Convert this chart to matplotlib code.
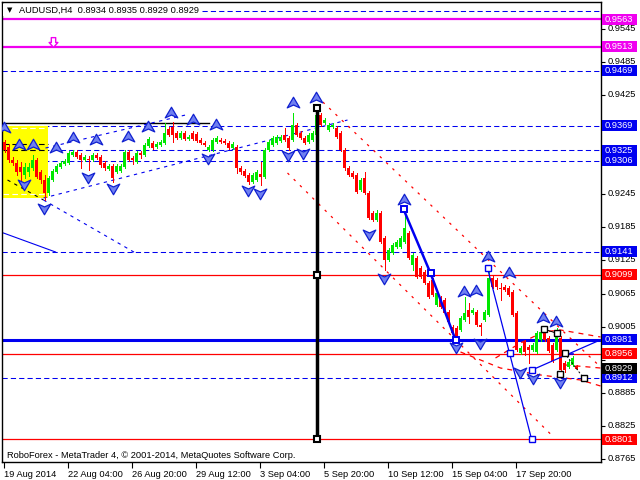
import matplotlib
matplotlib.use("Agg")
import matplotlib.pyplot as plt
from matplotlib.path import Path
from matplotlib.patches import Rectangle
from matplotlib.transforms import blended_transform_factory, ScaledTranslation
import numpy as np

plt.rcParams['font.family'] = ['Liberation Sans', 'DejaVu Sans']

# ---------------- data (AUDUSD H4 candles) ----------------
opens = [0.9340,0.9331,0.9307,0.9302,0.9295,0.9280,0.9285,0.9293,0.9307,0.9285,
         0.9271,0.9247,0.9271,0.9285,0.9295,0.9300,0.9302,0.9316,0.9322,0.9316,
         0.9307,0.9309,0.9307,0.9316,0.9313,0.9302,0.9291,0.9296,0.9285,0.9287,
         0.9295,0.9322,0.9311,0.9304,0.9320,0.9316,0.9333,0.9338,0.9331,0.9334,
         0.9338,0.9363,0.9367,0.9356,0.9347,0.9356,0.9345,0.9356,0.9354,0.9344,
         0.9338,0.9325,0.9325,0.9340,0.9344,0.9342,0.9338,0.9329,0.9331,0.9293,
         0.9287,0.9280,0.9267,0.9271,0.9282,0.9276,0.9325,0.9334,0.9338,0.9342,
         0.9353,0.9347,0.9344,0.9371,0.9356,0.9347,0.9340,0.9344,0.9353,0.9389,
         0.9374,0.9362,0.9367,0.9365,0.9356,0.9325,0.9293,0.9284,0.9280,0.9253,
         0.9275,0.9247,0.9211,0.9198,0.9211,0.9166,0.9126,0.9139,0.9149,0.9149,
         0.9159,0.9175,0.9117,0.9130,0.9111,0.9104,0.9084,0.9090,0.9044,0.9057,
         0.9053,0.9032,0.9004,0.9003,0.8999,0.9017,0.9035,0.9030,0.9032,0.9008,
         0.9017,0.9026,0.9093,0.9090,0.9075,0.9077,0.9075,0.9068,0.9030,0.8957,
         0.8977,0.8968,0.8963,0.8959,0.8981,0.8995,0.8984,0.8972,0.8963,0.8984,
         0.8939,0.8932,0.8935,0.8934]
highs = [0.9344,0.9336,0.9313,0.9307,0.9304,0.9302,0.9302,0.9316,0.9311,0.9289,
         0.9280,0.9278,0.9291,0.9300,0.9305,0.9309,0.9324,0.9325,0.9325,0.9320,
         0.9316,0.9315,0.9320,0.9320,0.9316,0.9305,0.9300,0.9300,0.9300,0.9300,
         0.9325,0.9325,0.9315,0.9324,0.9324,0.9338,0.9349,0.9342,0.9340,0.9344,
         0.9374,0.9367,0.9376,0.9360,0.9360,0.9360,0.9353,0.9360,0.9358,0.9347,
         0.9342,0.9334,0.9347,0.9351,0.9347,0.9345,0.9342,0.9340,0.9334,0.9296,
         0.9291,0.9284,0.9284,0.9289,0.9304,0.9329,0.9344,0.9351,0.9353,0.9353,
         0.9365,0.9351,0.9393,0.9374,0.9360,0.9351,0.9356,0.9360,0.9405,0.9393,
         0.9384,0.9374,0.9374,0.9369,0.9360,0.9329,0.9296,0.9287,0.9284,0.9275,
         0.9285,0.9251,0.9215,0.9217,0.9215,0.9169,0.9148,0.9157,0.9162,0.9169,
         0.9217,0.9178,0.9139,0.9133,0.9115,0.9108,0.9088,0.9093,0.9070,0.9061,
         0.9057,0.9035,0.9008,0.9006,0.9024,0.9059,0.9048,0.9039,0.9035,0.9012,
         0.9035,0.9113,0.9097,0.9093,0.9084,0.9081,0.9079,0.9071,0.9033,0.8970,
         0.8981,0.8972,0.8975,0.8997,0.8999,0.8999,0.8988,0.8975,0.9003,0.8988,
         0.8943,0.8944,0.8952,0.8935]
lows = [0.9322,0.9304,0.9298,0.9280,0.9271,0.9275,0.9278,0.9289,0.9275,0.9266,
        0.9235,0.9244,0.9269,0.9284,0.9293,0.9298,0.9300,0.9315,0.9311,0.9293,
        0.9305,0.9289,0.9305,0.9309,0.9295,0.9289,0.9289,0.9267,0.9284,0.9285,
        0.9293,0.9305,0.9300,0.9302,0.9311,0.9315,0.9331,0.9327,0.9329,0.9333,
        0.9336,0.9351,0.9340,0.9345,0.9345,0.9344,0.9344,0.9344,0.9340,0.9336,
        0.9333,0.9324,0.9324,0.9338,0.9338,0.9336,0.9327,0.9327,0.9284,0.9282,
        0.9276,0.9264,0.9266,0.9269,0.9262,0.9275,0.9324,0.9333,0.9336,0.9340,
        0.9342,0.9325,0.9342,0.9351,0.9345,0.9336,0.9338,0.9342,0.9351,0.9369,
        0.9373,0.9360,0.9365,0.9347,0.9324,0.9289,0.9278,0.9275,0.9247,0.9251,
        0.9246,0.9200,0.9197,0.9197,0.9157,0.9108,0.9124,0.9137,0.9148,0.9148,
        0.9157,0.9128,0.9108,0.9093,0.9093,0.9082,0.9057,0.9061,0.9042,0.9039,
        0.9028,0.9012,0.8992,0.8979,0.8997,0.9015,0.9012,0.9028,0.9006,0.8990,
        0.9015,0.9024,0.9075,0.9073,0.9053,0.9070,0.9061,0.9024,0.8961,0.8955,
        0.8954,0.8939,0.8961,0.8957,0.8979,0.8979,0.8959,0.8941,0.8961,0.8925,
        0.8923,0.8930,0.8934,0.8929]
closes = [0.9325,0.9307,0.9302,0.9285,0.9285,0.9295,0.9295,0.9307,0.9276,0.9271,
          0.9247,0.9275,0.9287,0.9296,0.9302,0.9305,0.9320,0.9322,0.9313,0.9307,
          0.9313,0.9307,0.9316,0.9311,0.9298,0.9293,0.9296,0.9275,0.9296,0.9296,
          0.9322,0.9307,0.9307,0.9320,0.9316,0.9334,0.9345,0.9329,0.9336,0.9340,
          0.9356,0.9353,0.9353,0.9347,0.9356,0.9345,0.9349,0.9345,0.9342,0.9338,
          0.9334,0.9331,0.9344,0.9347,0.9340,0.9338,0.9329,0.9336,0.9293,0.9285,
          0.9278,0.9267,0.9280,0.9285,0.9276,0.9325,0.9340,0.9347,0.9349,0.9349,
          0.9344,0.9329,0.9371,0.9353,0.9347,0.9338,0.9353,0.9356,0.9389,0.9371,
          0.9380,0.9371,0.9371,0.9349,0.9325,0.9293,0.9280,0.9276,0.9249,0.9271,
          0.9247,0.9202,0.9198,0.9211,0.9159,0.9126,0.9144,0.9153,0.9159,0.9166,
          0.9184,0.9130,0.9135,0.9095,0.9095,0.9084,0.9059,0.9062,0.9066,0.9041,
          0.9030,0.9013,0.8993,0.8981,0.9021,0.9030,0.9022,0.9035,0.9008,0.9004,
          0.9032,0.9093,0.9077,0.9077,0.9073,0.9071,0.9062,0.9026,0.8963,0.8966,
          0.8959,0.8963,0.8972,0.8993,0.8995,0.8981,0.8961,0.8943,0.8999,0.8926,
          0.8926,0.8941,0.8948,0.8929]

date_labels = ["19 Aug 2014", "22 Aug 04:00", "26 Aug 20:00", "29 Aug 12:00",
               "3 Sep 04:00", "5 Sep 20:00", "10 Sep 12:00", "15 Sep 04:00",
               "17 Sep 20:00"]
date_bars = [0, 16, 32, 48, 64, 80, 96, 112, 128]
y_ticks = [0.9545, 0.9485, 0.9425, 0.9365, 0.9305, 0.9245, 0.9185, 0.9125,
           0.9065, 0.9005, 0.8945, 0.8885, 0.8825, 0.8765]
hidden_ticks = [0.9365, 0.9305, 0.8945]   # covered by price labels in the reference

# horizontal levels: (price, colour, style, width, label colour)
levels = [
    (0.9578, 'blue', 'dash', 0.75, None),
    (0.9563, 'magenta', 'solid', 1.6, 'magenta'),
    (0.9513, 'magenta', 'solid', 1.6, 'magenta'),
    (0.9469, 'blue', 'dash', 0.75, 'blue'),
    (0.9369, 'blue', 'dash', 0.75, 'blue'),
    (0.9325, 'blue', 'dash', 0.75, 'blue'),
    (0.9306, 'blue', 'dash', 0.75, 'blue'),
    (0.9141, 'blue', 'dash', 0.75, 'blue'),
    (0.9099, 'red', 'solid', 0.9, 'red'),
    (0.8981, 'blue', 'solid', 2.2, 'blue'),
    (0.8956, 'red', 'solid', 0.9, 'red'),
    (0.8912, 'blue', 'dash', 0.75, 'blue'),
    (0.8801, 'red', 'solid', 0.9, 'red'),
]
current_price = 0.8929

# fractal arrows (bar index, price)
up_x = [-0.25, 3.5, 7, 12.75, 17, 22.75, 30.75, 35.75, 41.5, 47, 52.75, 72, 77.75,
        99.75, 114.75, 117.75, 120.75, 126, 134.5, 137.75]
up_y = [0.9365, 0.93345, 0.93345, 0.9329, 0.93472, 0.93435, 0.9349, 0.93671,
        0.93925, 0.93798, 0.93707, 0.94107, 0.94197, 0.92347, 0.90678, 0.90696,
        0.91313, 0.91023, 0.90207, 0.90134]
dn_x = [4.75, 9.75, 20.75, 27, 50.75, 60.75, 63.75, 70.75, 74.5, 91, 94.75,
        112.75, 118.75, 128.75, 132, 138.75]
dn_y = [0.92637, 0.92202, 0.92764, 0.92565, 0.93109, 0.92528, 0.92474, 0.93163,
        0.932, 0.9173, 0.90932, 0.8968, 0.89753, 0.89227, 0.89118, 0.89046]

# drawn objects
vline_x = 78
vline_top, vline_mid, vline_bot = 0.9402, 0.9099, 0.8801
zig_thick_x = [99.75, 106.5, 112.75]
zig_thick_y = [0.9218, 0.9102, 0.8981]
zig_thin_x = [120.75, 126.25, 131.75]
zig_thin_y = [0.9111, 0.8957, 0.8801]
rise_x = [131.75, 149]
rise_y = [0.8926, 0.8981]
black_x = [134.75, 138, 138.75, 140, 144.75]
black_y = [0.9001, 0.8993, 0.8919, 0.8957, 0.8912]
red_up_x = [78, 149];      red_up_y = [0.94234, 0.89318]
red_lo_x = [70.75, 137.25]; red_lo_y = [0.92837, 0.88048]
arcA_x = [122.75, 129, 134.75, 139, 149]
arcA_y = [0.89481, 0.89753, 0.89953, 0.89989, 0.89862]
arcB_x = [114, 124, 134, 144, 149]
arcB_y = [0.8959, 0.89299, 0.89172, 0.89082, 0.88973]
arcD_x = [140.25, 149];    arcD_y = [0.89354, 0.89299]
chan_lo_x = [9.75, 85.75]; chan_lo_y = [0.92383, 0.93798]
chan_up_x = [10.25, 45.25]; chan_up_y = [0.9329, 0.93889]
desc_x = [0.75, 9.75, 32.75]; desc_y = [0.9271, 0.92347, 0.91386]
solid_x = [-0.25, 12.75];  solid_y = [0.91748, 0.91404]
black_h_y = 0.93744; black_h_x = [-0.5, 51]
yellow_x = [-0.5, 10.75]; yellow_y = [0.92383, 0.93689]
mark_x, mark_y = 12, 0.95213

# ---------------- figure ----------------
W, H = 640, 480
fig = plt.figure(figsize=(6.4, 4.8), dpi=100)
fig.patch.set_facecolor('white')
ax = fig.add_axes([2 / W, 18 / H, 599 / W, 460 / H])
ax.set_xlim(-0.625, 149.125)
ax.set_ylim(0.87594, 0.95939)

BLUE = '#0000F0'
GREEN = '#00E800'
RED = '#FF0000'
MAG = '#F000F0'
dash = (0, (5, 3))

colmap = {'blue': BLUE, 'red': RED, 'magenta': MAG}
for p, c, st, lw, lab in levels:
    ax.axhline(p, color=colmap[c], lw=lw, ls=dash if st == 'dash' else '-', zorder=1)
ax.plot(black_h_x, [black_h_y] * 2, color='black', lw=1, zorder=1)

# yellow rectangle and recoloured lines inside
ax.add_patch(Rectangle((yellow_x[0], yellow_y[0]), yellow_x[1] - yellow_x[0],
                       yellow_y[1] - yellow_y[0], facecolor='#FFFF00', edgecolor='none', zorder=2))
for yv, cc in [(0.9365, 'white'), (0.9336, 'black'), (0.9325, 'black'), (0.9246, 'white')]:
    ax.plot(yellow_x, [yv, yv], color=cc, lw=0.8, ls=dash, zorder=2.5)

# trend lines
ax.plot(chan_lo_x, chan_lo_y, color=BLUE, lw=0.8, ls=(0, (3, 4)), zorder=2.2)
ax.plot(chan_up_x, chan_up_y, color=BLUE, lw=0.8, ls=(0, (3, 4)), zorder=2.2)
ax.plot(desc_x[:2], desc_y[:2], color='black', lw=0.8, ls=(0, (3, 4)), zorder=2.6)
ax.plot(desc_x[1:], desc_y[1:], color=BLUE, lw=0.8, ls=(0, (3, 4)), zorder=2.2)
ax.plot(solid_x, solid_y, color=BLUE, lw=0.8, zorder=2.2)
ax.plot(red_up_x, red_up_y, color=RED, lw=0.9, ls=(0, (2, 5)), zorder=2.2)
ax.plot(red_lo_x, red_lo_y, color=RED, lw=0.9, ls=(0, (2, 5)), zorder=2.2)
for xs, ys in [(arcA_x, arcA_y), (arcB_x, arcB_y), (arcD_x, arcD_y)]:
    ax.plot(xs, ys, color=RED, lw=0.9, ls=(0, (4, 4)), zorder=2.2)

# candles
x = np.arange(len(opens))
o = np.array(opens); c = np.array(closes); hi = np.array(highs); lo = np.array(lows)
up = c >= o
cols = np.where(up, GREEN, RED)
ax.vlines(x, lo, hi, colors=cols, lw=0.72, zorder=3, antialiased=False)
body_bot = np.minimum(o, c)
body_h = np.maximum(np.abs(c - o), 0.00012)
ax.bar(x, body_h, bottom=body_bot, width=0.74, color=cols, linewidth=0, zorder=3.1,
       antialiased=False)

# zigzags
ax.plot(zig_thick_x, zig_thick_y, color=BLUE, lw=1.8, zorder=4,
        marker='s', ms=4.5, mfc='white', mec=BLUE, mew=1.4)
ax.plot(zig_thin_x, zig_thin_y, color=BLUE, lw=0.9, zorder=4,
        marker='s', ms=4, mfc='white', mec=BLUE, mew=1)
ax.plot(rise_x, rise_y, color=BLUE, lw=0.9, zorder=4)
ax.plot(rise_x[:1], rise_y[:1], ls='none', marker='s', ms=4, mfc='white', mec=BLUE, mew=1, zorder=4)
ax.plot([139.75, 142], [0.8955, 0.8955], color=BLUE, lw=1.2, zorder=4)
ax.plot(black_x[:2], black_y[:2], color='black', lw=0.7, zorder=4)
ax.plot(black_x[3:], black_y[3:], color='black', lw=0.7, ls=(0, (2, 2)), zorder=4)
ax.plot(black_x, black_y, ls='none', marker='s', ms=4, mfc='white', mec='black', mew=1, zorder=4.2)

# vertical line
ax.plot([vline_x, vline_x], [vline_bot, vline_top], color='black', lw=2.5, zorder=4)
ax.plot([vline_x] * 3, [vline_top, vline_mid, vline_bot], ls='none', marker='s', ms=5,
        mfc='white', mec='black', mew=1.5, zorder=4.1)

# fractal arrows
up_path = Path([(0, 1), (1.0, -0.7), (0, -0.25), (-1.0, -0.7), (0, 1)],
               [Path.MOVETO, Path.LINETO, Path.LINETO, Path.LINETO, Path.CLOSEPOLY])
dn_path = Path([(0, -1), (1.0, 0.7), (0, 0.25), (-1.0, 0.7), (0, -1)],
               [Path.MOVETO, Path.LINETO, Path.LINETO, Path.LINETO, Path.CLOSEPOLY])
ax.plot(up_x, up_y, ls='none', marker=up_path, ms=9, mfc='#7080F0', mec='#1020D0', mew=0.9, zorder=5)
ax.plot(dn_x, dn_y, ls='none', marker=dn_path, ms=9, mfc='#7080F0', mec='#1020D0', mew=0.9, zorder=5)

mk_path = Path([(-0.45, 1), (0.45, 1), (0.45, 0), (0.9, 0), (0, -1), (-0.9, 0), (-0.45, 0), (-0.45, 1)],
               [Path.MOVETO] + [Path.LINETO] * 6 + [Path.CLOSEPOLY])
ax.plot([mark_x], [mark_y], ls='none', marker=mk_path, ms=7, mfc='white', mec=MAG, mew=1, zorder=5)

# axes style
for s in ax.spines.values():
    s.set_color('black'); s.set_linewidth(1)
ax.yaxis.tick_right()
ax.set_yticks(y_ticks)
ax.set_yticklabels(["" if v in hidden_ticks else f"{v:.4f}" for v in y_ticks])
ax.tick_params(axis='y', direction='out', length=3, width=0.8, pad=2, labelsize=6.7, colors='black')
shift_up = ScaledTranslation(0, 1.5 / 100, fig.dpi_scale_trans)
for lab in ax.get_yticklabels():
    lab.set_transform(lab.get_transform() + shift_up)
ax.set_xticks([b - 0.2 for b in date_bars])
ax.set_xticklabels(date_labels)
ax.tick_params(axis='x', direction='out', length=4, width=0.8, pad=1.5, labelsize=6.7)
for lab in ax.get_xticklabels():
    lab.set_ha('left')

# price label boxes on right axis
tr = blended_transform_factory(fig.transFigure, ax.transData)
box_h = 11 * 0.0001814
def price_box(p, fc):
    fig.add_artist(Rectangle((602 / W, p - box_h / 2), 35 / W, box_h, transform=tr,
                             facecolor=fc, edgecolor='none', zorder=3, clip_on=False))
    fig.text(605 / W, p, f"{p:.4f}", transform=tr, color='white', fontsize=6.7,
             va='center', ha='left', zorder=4)
for p, c_, st, lw, lab in levels:
    if lab:
        price_box(p, colmap[lab])
price_box(current_price, 'black')

# texts
fig.add_artist(Rectangle((3 / W, 1 - 16 / H), 198 / W, 12 / H, transform=fig.transFigure,
                         facecolor='white', edgecolor='none', zorder=2))
fig.text(7 / W, 1 - 10 / H, '▼', fontsize=5, color='black', va='center', ha='left',
         family=['DejaVu Sans'], zorder=4)
fig.text(19 / W, 1 - 10 / H, 'AUDUSD,H4  0.8934 0.8935 0.8929 0.8929', fontsize=6.7,
         color='black', va='center', ha='left', zorder=4)
fig.text(7 / W, 1 - 455 / H, 'RoboForex - MetaTrader 4, © 2001-2014, MetaQuotes Software Corp.',
         fontsize=6.7, color='black', va='center', ha='left')

fig.savefig('out.png', dpi=100, facecolor='white')
